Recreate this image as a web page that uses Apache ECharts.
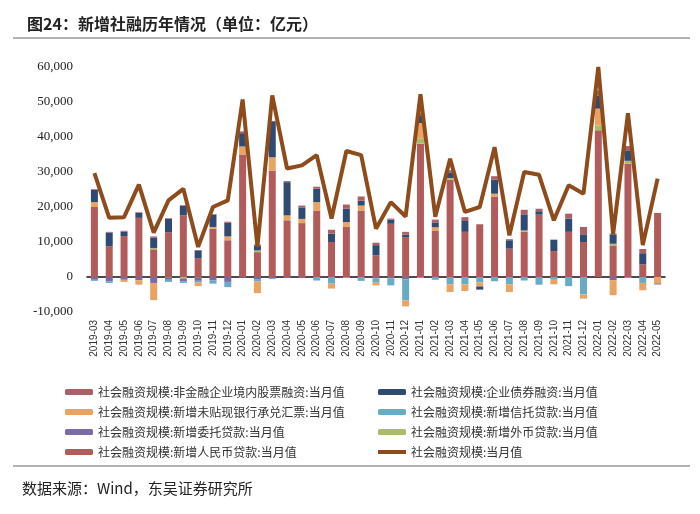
<!DOCTYPE html>
<html>
<head>
<meta charset="utf-8">
<script src="https://cdn.jsdelivr.net/npm/echarts@6/dist/echarts.min.js"></script>
<style>html,body{margin:0;padding:0;background:#fff;}#c{width:700px;height:514px;}</style>
</head>
<body>
<div id="c"></div>
<script>
const months = ['2019-03','2019-04','2019-05','2019-06','2019-07','2019-08','2019-09','2019-10','2019-11','2019-12',
'2020-01','2020-02','2020-03','2020-04','2020-05','2020-06','2020-07','2020-08','2020-09','2020-10','2020-11','2020-12',
'2021-01','2021-02','2021-03','2021-04','2021-05','2021-06','2021-07','2021-08','2021-09','2021-10','2021-11','2021-12',
'2022-01','2022-02','2022-03','2022-04','2022-05'];
const loans = [20000,8800,11700,16900,7900,12800,17600,5400,13800,10500,35000,7100,30400,16200,15400,19000,10000,14300,19000,6200,15200,11400,38100,13300,27800,12900,14900,23000,8100,12900,17800,7400,12900,10000,41900,9000,32400,3600,18300];
const fx = [0,0,0,0,400,-200,-400,-200,0,0,0,500,0,0,0,0,0,0,0,0,0,0,1400,0,500,0,0,0,0,400,0,0,0,0,1400,500,800,0,0];
const entrusted = [-800,-1200,-800,-900,-1700,-600,-800,-900,-1000,-1400,-200,-600,-300,-300,-300,0,0,0,0,-400,-400,-700,0,0,0,0,0,0,0,0,0,0,0,0,0,-900,0,0,0];
const trust = [-300,-500,0,0,0,-600,-500,-500,-900,-1500,0,-700,-300,0,0,-1000,-1900,-300,-1100,-1200,-2000,-6000,-300,-800,-2100,-2100,-1500,-1200,-2100,-1000,-2200,-800,-2600,-5000,0,0,-300,-1700,0];
const undiscounted = [1400,0,-600,-1300,-4900,0,0,-1000,500,1100,2300,-3300,3800,1400,1200,2400,-1400,1400,1400,-800,0,-1700,4500,900,-2200,-1900,-1200,800,-2200,0,0,-1300,0,-1200,4800,-4300,0,-2100,-1900];
const bonds = [3500,3900,1300,1400,3000,3800,2700,2200,3500,3900,3800,1400,10100,9500,3300,3800,2400,3800,1400,2900,1200,700,2000,1400,1600,3100,-900,4000,2400,4600,1000,3200,3800,2200,3800,2700,3000,3200,-200];
const equity = [200,200,200,200,300,200,200,100,200,300,500,300,300,300,500,600,1100,1200,1200,700,300,800,800,800,600,1100,200,1000,300,1300,700,100,1400,2100,1400,200,1200,1200,0];
const total = [29700,16900,17100,26400,12700,21900,25200,8600,20000,21900,50700,8600,51900,31000,31900,34800,16700,36000,34800,13800,21400,17300,52200,17200,33800,18600,20000,37100,11900,30000,29200,16200,26200,23800,60000,12200,46800,9100,28100];

const N = {
  equity: '社会融资规模:非金融企业境内股票融资:当月值',
  bonds: '社会融资规模:企业债券融资:当月值',
  undiscounted: '社会融资规模:新增未贴现银行承兑汇票:当月值',
  trust: '社会融资规模:新增信托贷款:当月值',
  entrusted: '社会融资规模:新增委托贷款:当月值',
  fx: '社会融资规模:新增外币贷款:当月值',
  loans: '社会融资规模:新增人民币贷款:当月值',
  total: '社会融资规模:当月值'
};
const C = {
  loans: '#b25b5b', fx: '#a9bb6c', entrusted: '#7a6aa8', trust: '#67abc4',
  undiscounted: '#e9a464', bonds: '#2f4b73', equity: '#ad5f66', total: '#8e4c1c'
};

function bar(key, data) {
  return { name: N[key], type: 'bar', stack: 'sf', data: data, barWidth: 7,
    itemStyle: { color: C[key] }, emphasis: { disabled: true } };
}

const chart = echarts.init(document.getElementById('c'));
const legendText = { fontFamily: 'Noto Sans CJK SC', fontSize: 12, color: '#333', lineHeight: 16 };
const legendBase = { orient: 'vertical', top: 379, itemGap: 4, itemWidth: 28, itemHeight: 6, textStyle: legendText };
chart.setOption({
  animation: false,
  title: {
    text: '图24：新增社融历年情况（单位：亿元）', left: 22, top: 11,
    textStyle: { fontFamily: 'Noto Sans CJK SC', fontWeight: 'bold', fontSize: 16, color: '#222' }
  },
  graphic: [
    { type: 'line', shape: { x1: 13, y1: 38, x2: 690, y2: 38 }, style: { stroke: '#999', lineWidth: 1.5 } },
    { type: 'line', shape: { x1: 13, y1: 466, x2: 690, y2: 466 }, style: { stroke: '#999', lineWidth: 1.5 } },
    { type: 'text', left: 22, top: 481, style: { text: '数据来源：Wind，东吴证券研究所', font: '15px "Noto Sans CJK SC"', fill: '#222' } }
  ],
  legend: [
    Object.assign({ left: 60, data: [N.equity, N.undiscounted, N.entrusted, N.loans] }, legendBase),
    Object.assign({ left: 373, data: [N.bonds, N.trust, N.fx,
      { name: N.total, icon: 'path://M0,0 L28,0 L28,4 L0,4 Z', itemStyle: { color: C.total } }] }, legendBase)
  ],
  grid: { left: 87, right: 35, top: 67, bottom: 202 },
  xAxis: [
    { type: 'category', data: months, position: 'bottom',
      axisLine: { show: false, onZero: false }, axisTick: { show: false },
      axisLabel: { rotate: 90, interval: 0, margin: 8, fontSize: 10, color: '#333', fontFamily: 'Liberation Sans' } },
    { type: 'category', data: months, position: 'bottom',
      axisLine: { show: true, onZero: true, lineStyle: { color: '#111', width: 1.5 } },
      axisTick: { show: false }, axisLabel: { show: false } }
  ],
  yAxis: {
    type: 'value', min: -10000, max: 60000, interval: 10000,
    axisLine: { show: false }, axisTick: { show: false }, splitLine: { show: false },
    axisLabel: { margin: 14, fontSize: 13, color: '#222', fontFamily: 'Liberation Serif',
      formatter: v => v.toLocaleString('en-US') }
  },
  series: [
    bar('loans', loans), bar('fx', fx), bar('entrusted', entrusted), bar('trust', trust),
    bar('undiscounted', undiscounted), bar('bonds', bonds), bar('equity', equity),
    { name: N.total, type: 'line', data: total, symbol: 'none', z: 5,
      lineStyle: { color: C.total, width: 4 }, itemStyle: { color: C.total } }
  ]
});
</script>
</body>
</html>
